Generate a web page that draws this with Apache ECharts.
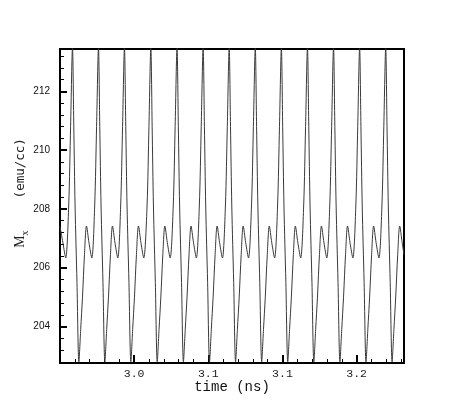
<!DOCTYPE html>
<html>
<head>
<meta charset="utf-8">
<script src="https://cdn.jsdelivr.net/npm/echarts@6/dist/echarts.min.js"></script>
<style>
html,body{margin:0;padding:0;background:#fff;}
#chart{width:460px;height:409px;}
</style>
</head>
<body>
<div id="chart"></div>
<script>
var time = [
  2.95000, 2.95195, 2.95384,
  2.95586, 2.95714, 2.95842, 2.95930, 2.96017, 2.96145, 2.96273, 2.96395, 2.96516, 2.96651, 2.96786, 2.96954, 2.97143,
  2.97338, 2.97466, 2.97594, 2.97682, 2.97769, 2.97897, 2.98025, 2.98147, 2.98268, 2.98403, 2.98538, 2.98706, 2.98895,
  2.99090, 2.99218, 2.99346, 2.99434, 2.99521, 2.99649, 2.99777, 2.99899, 3.00020, 3.00155, 3.00290, 3.00458, 3.00647,
  3.00869, 3.00997, 3.01125, 3.01213, 3.01300, 3.01428, 3.01556, 3.01678, 3.01799, 3.01934, 3.02069, 3.02237, 3.02426,
  3.02635, 3.02763, 3.02891, 3.02979, 3.03066, 3.03194, 3.03322, 3.03444, 3.03565, 3.03700, 3.03835, 3.04003, 3.04192,
  3.04394, 3.04522, 3.04650, 3.04738, 3.04825, 3.04953, 3.05081, 3.05203, 3.05324, 3.05459, 3.05594, 3.05762, 3.05951,
  3.06152, 3.06280, 3.06408, 3.06496, 3.06583, 3.06711, 3.06839, 3.06961, 3.07082, 3.07217, 3.07352, 3.07520, 3.07709,
  3.07911, 3.08039, 3.08167, 3.08255, 3.08342, 3.08470, 3.08598, 3.08720, 3.08841, 3.08976, 3.09111, 3.09279, 3.09468,
  3.09670, 3.09798, 3.09926, 3.10014, 3.10101, 3.10229, 3.10357, 3.10479, 3.10600, 3.10735, 3.10870, 3.11038, 3.11227,
  3.11429, 3.11557, 3.11685, 3.11773, 3.11860, 3.11988, 3.12116, 3.12238, 3.12359, 3.12494, 3.12629, 3.12797, 3.12986,
  3.13187, 3.13315, 3.13443, 3.13531, 3.13618, 3.13746, 3.13874, 3.13996, 3.14117, 3.14252, 3.14387, 3.14555, 3.14744,
  3.14946, 3.15074, 3.15202, 3.15290, 3.15377, 3.15505, 3.15633, 3.15755, 3.15876, 3.16011, 3.16146, 3.16314, 3.16503,
  3.16705, 3.16833, 3.16961, 3.17049, 3.17136, 3.17264, 3.17392, 3.17514, 3.17635, 3.17770, 3.17905, 3.18073, 3.18194
];
// Mx (emu/cc) at each time
var mx = [
  207.40, 206.85, 206.33,
  208.1, 210.8, 213.5, 210.8, 208.1, 205.5, 202.8, 203.9, 205.0, 206.45, 207.42, 206.85, 206.33,
  208.1, 210.8, 213.5, 210.8, 208.1, 205.5, 202.8, 203.9, 205.0, 206.45, 207.42, 206.85, 206.33,
  208.1, 210.8, 213.5, 210.8, 208.1, 205.5, 202.8, 203.9, 205.0, 206.45, 207.42, 206.85, 206.33,
  208.1, 210.8, 213.5, 210.8, 208.1, 205.5, 202.8, 203.9, 205.0, 206.45, 207.42, 206.85, 206.33,
  208.1, 210.8, 213.5, 210.8, 208.1, 205.5, 202.8, 203.9, 205.0, 206.45, 207.42, 206.85, 206.33,
  208.1, 210.8, 213.5, 210.8, 208.1, 205.5, 202.8, 203.9, 205.0, 206.45, 207.42, 206.85, 206.33,
  208.1, 210.8, 213.5, 210.8, 208.1, 205.5, 202.8, 203.9, 205.0, 206.45, 207.42, 206.85, 206.33,
  208.1, 210.8, 213.5, 210.8, 208.1, 205.5, 202.8, 203.9, 205.0, 206.45, 207.42, 206.85, 206.33,
  208.1, 210.8, 213.5, 210.8, 208.1, 205.5, 202.8, 203.9, 205.0, 206.45, 207.42, 206.85, 206.33,
  208.1, 210.8, 213.5, 210.8, 208.1, 205.5, 202.8, 203.9, 205.0, 206.45, 207.42, 206.85, 206.33,
  208.1, 210.8, 213.5, 210.8, 208.1, 205.5, 202.8, 203.9, 205.0, 206.45, 207.42, 206.85, 206.33,
  208.1, 210.8, 213.5, 210.8, 208.1, 205.5, 202.8, 203.9, 205.0, 206.45, 207.42, 206.85, 206.33,
  208.1, 210.8, 213.5, 210.8, 208.1, 205.5, 202.8, 203.9, 205.0, 206.45, 207.42, 206.85, 206.45
];
// axis ticks
var xTickValues = [3.00, 3.05, 3.10, 3.15];
var xTickLabels = ['3.0', '3.1', '3.1', '3.2'];
var yTickValues = [204, 206, 208, 210, 212];
var yTickLabels = ['204', '206', '208', '210', '212'];
var xRange = [2.95, 3.18194];
var yRange = [202.76, 213.44];

function lookup(values, labels, v) {
  for (var i = 0; i < values.length; i++) {
    if (Math.abs(values[i] - v) < 1e-6) return labels[i];
  }
  return '';
}

var points = time.map(function (t, i) { return [t, mx[i]]; });

var chart = echarts.init(document.getElementById('chart'), null, {renderer: 'canvas'});
chart.setOption({
  animation: false,
  backgroundColor: '#fff',
  grid: {
    left: 60, right: 56, top: 49, bottom: 46,
    containLabel: false,
    outerBoundsMode: 'none',
    show: true, borderColor: '#000', borderWidth: 2, backgroundColor: 'transparent'
  },
  xAxis: {
    type: 'value',
    min: xRange[0], max: xRange[1], interval: 0.05,
    name: 'time (ns)',
    nameLocation: 'middle',
    nameGap: 17,
    nameMoveOverlap: false,
    nameTextStyle: {fontFamily: 'Liberation Mono', fontSize: 14, color: '#111'},
    axisLine: {show: true, onZero: false, lineStyle: {color: '#000', width: 2}},
    axisTick: {show: true, inside: true, length: 8, lineStyle: {color: '#000', width: 2}},
    minorTick: {show: true, splitNumber: 5, length: 4, lineStyle: {color: '#000', width: 1}},
    splitLine: {show: false},
    minorSplitLine: {show: false},
    axisLabel: {
      margin: 5,
      fontFamily: 'Liberation Mono', fontSize: 11.5, color: '#222',
      showMinLabel: false, showMaxLabel: false,
      formatter: function (v) { return lookup(xTickValues, xTickLabels, v); }
    }
  },
  yAxis: {
    type: 'value',
    min: yRange[0], max: yRange[1], splitNumber: 5,
    name: '{m|M}{s|x}{g|}{n|(emu/cc)}',
    nameLocation: 'middle',
    nameRotate: 90,
    nameGap: 33,
    nameMoveOverlap: false,
    nameTextStyle: {
      padding: [0, 0, 0, 26],
      rich: {
        m: {fontFamily: 'Liberation Serif', fontSize: 14, color: '#222', lineHeight: 16, verticalAlign: 'bottom'},
        s: {fontFamily: 'Liberation Serif', fontSize: 10, color: '#222', lineHeight: 16, verticalAlign: 'bottom', padding: [0, 0, -3, 0]},
        g: {width: 32, lineHeight: 16},
        n: {fontFamily: 'DejaVu Sans Mono', fontSize: 12.5, color: '#222', lineHeight: 16, verticalAlign: 'bottom'}
      }
    },
    axisLine: {show: true, onZero: false, lineStyle: {color: '#000', width: 2}},
    axisTick: {show: true, inside: true, length: 7, lineStyle: {color: '#000', width: 2}},
    minorTick: {show: true, splitNumber: 5, length: 4, lineStyle: {color: '#000', width: 1}},
    splitLine: {show: false},
    minorSplitLine: {show: false},
    axisLabel: {
      margin: 10,
      fontFamily: 'Liberation Sans', fontSize: 10, color: '#111',
      showMinLabel: false, showMaxLabel: false,
      formatter: function (v) { return lookup(yTickValues, yTickLabels, v); }
    }
  },
  series: [{
    type: 'line',
    data: points,
    showSymbol: false,
    smooth: 0.3,
    clip: true,
    lineStyle: {color: '#3a3a3a', width: 1}
  }]
});
</script>
</body>
</html>
